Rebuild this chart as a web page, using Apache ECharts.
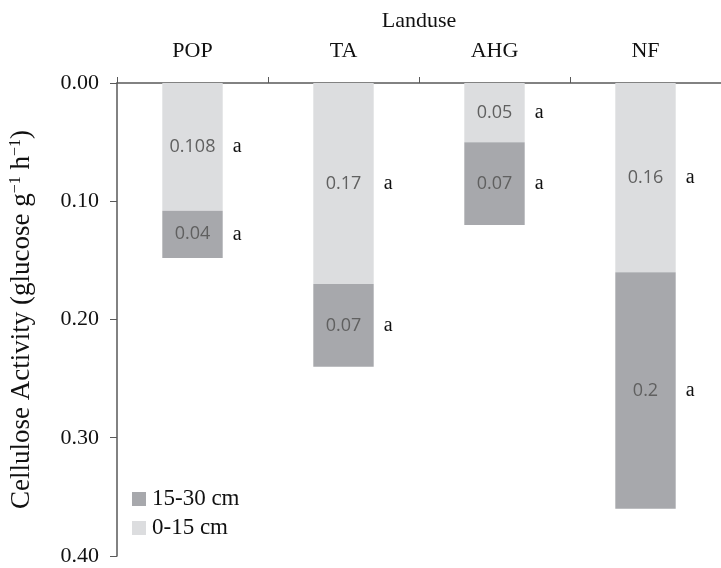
<!DOCTYPE html>
<html><head><meta charset="utf-8">
<script src="https://cdn.jsdelivr.net/npm/echarts@6/dist/echarts.min.js"></script>
<style>html,body{margin:0;padding:0;background:#fff}#c{width:721px;height:568px}</style>
</head><body><div id="c"></div>
<script>
const categories = ['POP', 'TA', 'AHG', 'NF'];
const shallow = [0.108, 0.17, 0.05, 0.16];      // 0-15 cm
const deep = [0.04, 0.07, 0.07, 0.2];           // 15-30 cm
const shallowLabels = ['0.108', '0.17', '0.05', '0.16'];
const deepLabels = ['0.04', '0.07', '0.07', '0.2'];
const shallowLetters = ['a', 'a', 'a', 'a'];
const deepLetters = ['a', 'a', 'a', 'a'];
const yTicks = [0, 0.1, 0.2, 0.3, 0.4];

const serif = '"Liberation Serif", "Times New Roman", serif';
const sans = '"Open Sans", "Noto Sans", sans-serif';
const chart = echarts.init(document.getElementById('c'), null, {renderer: 'canvas'});

function inner(labels) {
  return {show: true, position: 'inside', fontFamily: sans, fontSize: 18, color: '#606060',
    formatter: p => labels[p.dataIndex]};
}
function outer(letters) {
  return {show: true, position: 'right', distance: 10, fontFamily: serif, fontSize: 20, color: '#111',
    formatter: p => letters[p.dataIndex]};
}

chart.setOption({
  animation: false,
  grid: {left: 111, right: 0, top: 83, bottom: 12, containLabel: false},
  legend: {
    data: ['15-30 cm', '0-15 cm'], orient: 'vertical', left: 127, top: 482,
    itemWidth: 14, itemHeight: 14, itemGap: 5, icon: 'rect',
    textStyle: {fontFamily: serif, fontSize: 23, lineHeight: 24, color: '#111', padding: [0, 0, 0, 1]}
  },
  xAxis: {
    type: 'category', data: categories, position: 'top',
    name: 'Landuse', nameLocation: 'middle', nameGap: 51,
    nameTextStyle: {fontFamily: serif, fontSize: 22, color: '#111'},
    axisLine: {lineStyle: {color: '#595959', width: 1.5}},
    axisTick: {show: true, alignWithLabel: false, length: 6, lineStyle: {color: '#595959'}},
    axisLabel: {fontFamily: serif, fontSize: 22, color: '#111', margin: 21}
  },
  yAxis: {
    type: 'value', inverse: true, min: yTicks[0], max: yTicks[yTicks.length - 1], interval: 0.1,
    name: '{t|Cellulose Activity (glucose g}{s|−1}{t| h}{s|−1}{t|)}',
    nameLocation: 'middle', nameGap: 81, nameRotate: 90,
    nameTextStyle: {rich: {
      t: {fontFamily: serif, fontSize: 27, color: '#111'},
      s: {fontFamily: serif, fontSize: 16, color: '#111', verticalAlign: 'top', padding: [0, 0, 12, 0]}
    }},
    axisLine: {show: true, lineStyle: {color: '#595959', width: 1.5}},
    axisTick: {show: true, length: 7, lineStyle: {color: '#595959'}},
    splitLine: {show: false},
    axisLabel: {fontFamily: serif, fontSize: 22, color: '#111', margin: 18,
      formatter: v => v.toFixed(2)}
  },
  series: [
    {name: '0-15 cm', type: 'bar', stack: 'real', data: shallow, barWidth: '40%',
      itemStyle: {color: '#dcdddf'}, label: inner(shallowLabels)},
    {name: '15-30 cm', type: 'bar', stack: 'real', data: deep, barWidth: '40%',
      itemStyle: {color: '#a7a8ac'}, label: inner(deepLabels)},
    {name: 'g1', type: 'bar', stack: 'ghost', data: shallow, barWidth: '40%', barGap: '-100%',
      itemStyle: {color: 'rgba(0,0,0,0)'}, label: outer(shallowLetters), silent: true},
    {name: 'g2', type: 'bar', stack: 'ghost', data: deep, barWidth: '40%', barGap: '-100%',
      itemStyle: {color: 'rgba(0,0,0,0)'}, label: outer(deepLetters), silent: true}
  ]
});
</script></body></html>
